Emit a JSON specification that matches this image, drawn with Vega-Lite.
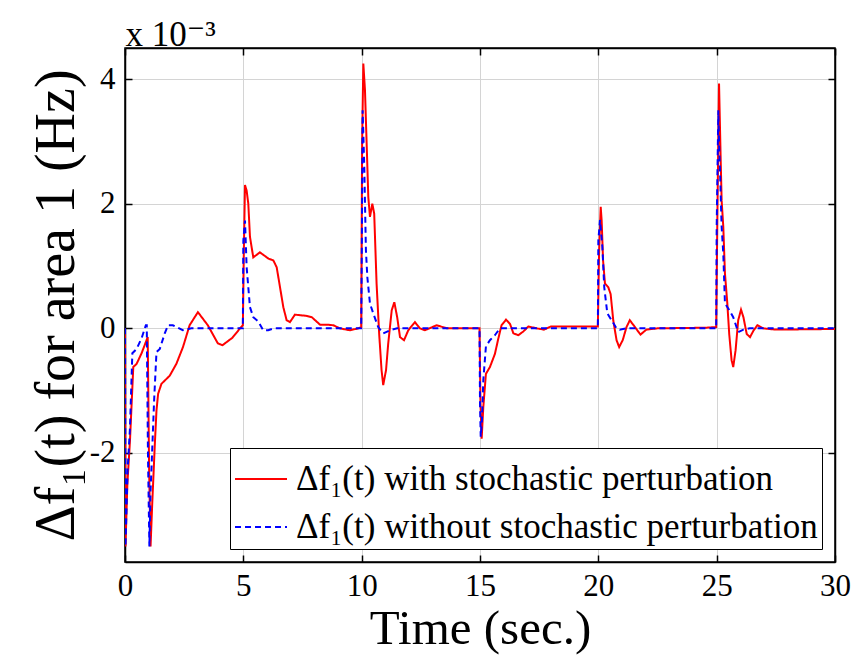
{
  "$schema": "https://vega.github.io/schema/vega-lite/v6.json",
  "width": 710,
  "height": 514,
  "autosize": {"type": "none"},
  "padding": {"left": 125, "top": 48, "right": 22, "bottom": 97},
  "background": "white",
  "config": {"view": {"stroke": "black", "strokeWidth": 1.5}, "font": "Times New Roman, Liberation Serif, DejaVu Serif, serif"},
  "data": {"values": [
    {"t":0,"v":0,"s":"with"},{"t":0.02,"v":-3.5,"s":"with"},{"t":0.1,"v":-2.5,"s":"with"},{"t":0.21,"v":-1.8,"s":"with"},{"t":0.35,"v":-0.62,"s":"with"},{"t":0.49,"v":-0.57,"s":"with"},{"t":0.7,"v":-0.4,"s":"with"},{"t":0.91,"v":-0.19,"s":"with"},{"t":0.96,"v":-0.14,"s":"with"},{"t":1.02,"v":-2.3,"s":"with"},{"t":1.08,"v":-3.5,"s":"with"},{"t":1.15,"v":-2.82,"s":"with"},{"t":1.26,"v":-1.86,"s":"with"},{"t":1.33,"v":-1.32,"s":"with"},{"t":1.4,"v":-1.05,"s":"with"},{"t":1.54,"v":-0.89,"s":"with"},{"t":1.89,"v":-0.76,"s":"with"},{"t":2.17,"v":-0.57,"s":"with"},{"t":2.45,"v":-0.3,"s":"with"},{"t":2.73,"v":0.05,"s":"with"},{"t":3.08,"v":0.26,"s":"with"},{"t":3.5,"v":0.05,"s":"with"},{"t":3.92,"v":-0.24,"s":"with"},{"t":4.12,"v":-0.27,"s":"with"},{"t":4.54,"v":-0.15,"s":"with"},{"t":4.86,"v":0.0,"s":"with"},{"t":4.98,"v":0.05,"s":"with"},{"t":5.02,"v":1.2,"s":"with"},{"t":5.07,"v":2.3,"s":"with"},{"t":5.14,"v":2.21,"s":"with"},{"t":5.21,"v":2.0,"s":"with"},{"t":5.28,"v":1.47,"s":"with"},{"t":5.42,"v":1.14,"s":"with"},{"t":5.7,"v":1.22,"s":"with"},{"t":6.06,"v":1.12,"s":"with"},{"t":6.27,"v":1.09,"s":"with"},{"t":6.41,"v":0.98,"s":"with"},{"t":6.55,"v":0.66,"s":"with"},{"t":6.69,"v":0.34,"s":"with"},{"t":6.83,"v":0.13,"s":"with"},{"t":6.97,"v":0.1,"s":"with"},{"t":7.18,"v":0.22,"s":"with"},{"t":7.68,"v":0.2,"s":"with"},{"t":7.89,"v":0.18,"s":"with"},{"t":8.24,"v":0.06,"s":"with"},{"t":8.52,"v":0.06,"s":"with"},{"t":8.8,"v":0.05,"s":"with"},{"t":9.08,"v":0,"s":"with"},{"t":9.5,"v":-0.03,"s":"with"},{"t":9.86,"v":0,"s":"with"},{"t":9.98,"v":0.02,"s":"with"},{"t":10.02,"v":3.0,"s":"with"},{"t":10.07,"v":4.25,"s":"with"},{"t":10.14,"v":3.82,"s":"with"},{"t":10.21,"v":2.97,"s":"with"},{"t":10.28,"v":2.11,"s":"with"},{"t":10.35,"v":1.79,"s":"with"},{"t":10.45,"v":2.0,"s":"with"},{"t":10.53,"v":1.84,"s":"with"},{"t":10.63,"v":0.72,"s":"with"},{"t":10.74,"v":-0.09,"s":"with"},{"t":10.84,"v":-0.67,"s":"with"},{"t":10.91,"v":-0.91,"s":"with"},{"t":11.03,"v":-0.67,"s":"with"},{"t":11.12,"v":-0.25,"s":"with"},{"t":11.27,"v":0.29,"s":"with"},{"t":11.38,"v":0.42,"s":"with"},{"t":11.5,"v":0.18,"s":"with"},{"t":11.62,"v":-0.14,"s":"with"},{"t":11.79,"v":-0.19,"s":"with"},{"t":11.97,"v":-0.03,"s":"with"},{"t":12.25,"v":0.1,"s":"with"},{"t":12.46,"v":0,"s":"with"},{"t":12.67,"v":-0.03,"s":"with"},{"t":13.17,"v":0.05,"s":"with"},{"t":13.6,"v":0,"s":"with"},{"t":14.5,"v":0,"s":"with"},{"t":14.98,"v":0,"s":"with"},{"t":15.02,"v":-1.2,"s":"with"},{"t":15.07,"v":-1.77,"s":"with"},{"t":15.14,"v":-1.26,"s":"with"},{"t":15.25,"v":-0.73,"s":"with"},{"t":15.42,"v":-0.62,"s":"with"},{"t":15.63,"v":-0.41,"s":"with"},{"t":15.77,"v":-0.17,"s":"with"},{"t":15.91,"v":0.05,"s":"with"},{"t":16.1,"v":0.14,"s":"with"},{"t":16.27,"v":0.07,"s":"with"},{"t":16.41,"v":-0.08,"s":"with"},{"t":16.62,"v":-0.11,"s":"with"},{"t":16.83,"v":-0.05,"s":"with"},{"t":17.04,"v":0.03,"s":"with"},{"t":17.4,"v":0,"s":"with"},{"t":17.7,"v":-0.02,"s":"with"},{"t":18.0,"v":0.03,"s":"with"},{"t":19.6,"v":0.03,"s":"with"},{"t":19.98,"v":0.03,"s":"with"},{"t":20.03,"v":1.2,"s":"with"},{"t":20.1,"v":1.95,"s":"with"},{"t":20.14,"v":1.73,"s":"with"},{"t":20.2,"v":1.09,"s":"with"},{"t":20.28,"v":0.72,"s":"with"},{"t":20.42,"v":0.66,"s":"with"},{"t":20.52,"v":0.55,"s":"with"},{"t":20.63,"v":0.13,"s":"with"},{"t":20.77,"v":-0.19,"s":"with"},{"t":20.88,"v":-0.3,"s":"with"},{"t":21.03,"v":-0.19,"s":"with"},{"t":21.19,"v":0.02,"s":"with"},{"t":21.33,"v":0.13,"s":"with"},{"t":21.55,"v":0.02,"s":"with"},{"t":21.78,"v":-0.1,"s":"with"},{"t":22.03,"v":-0.02,"s":"with"},{"t":22.5,"v":0,"s":"with"},{"t":24.5,"v":0.01,"s":"with"},{"t":24.98,"v":0.02,"s":"with"},{"t":25.03,"v":1.8,"s":"with"},{"t":25.1,"v":3.93,"s":"with"},{"t":25.14,"v":3.23,"s":"with"},{"t":25.17,"v":2.7,"s":"with"},{"t":25.21,"v":2.05,"s":"with"},{"t":25.28,"v":1.63,"s":"with"},{"t":25.35,"v":0.88,"s":"with"},{"t":25.45,"v":0.4,"s":"with"},{"t":25.53,"v":-0.09,"s":"with"},{"t":25.63,"v":-0.51,"s":"with"},{"t":25.7,"v":-0.62,"s":"with"},{"t":25.8,"v":-0.35,"s":"with"},{"t":25.91,"v":0.13,"s":"with"},{"t":26.03,"v":0.3,"s":"with"},{"t":26.13,"v":0.18,"s":"with"},{"t":26.27,"v":-0.09,"s":"with"},{"t":26.41,"v":-0.14,"s":"with"},{"t":26.55,"v":-0.04,"s":"with"},{"t":26.72,"v":0.05,"s":"with"},{"t":26.97,"v":0,"s":"with"},{"t":27.5,"v":-0.02,"s":"with"},{"t":30,"v":-0.01,"s":"with"},
    {"t":0,"v":0,"s":"without"},{"t":0.02,"v":-3.5,"s":"without"},{"t":0.11,"v":-2.28,"s":"without"},{"t":0.21,"v":-1.6,"s":"without"},{"t":0.31,"v":-0.4,"s":"without"},{"t":0.49,"v":-0.33,"s":"without"},{"t":0.7,"v":-0.16,"s":"without"},{"t":0.88,"v":0.05,"s":"without"},{"t":0.92,"v":0.05,"s":"without"},{"t":0.97,"v":-2.0,"s":"without"},{"t":1.03,"v":-3.5,"s":"without"},{"t":1.08,"v":-2.6,"s":"without"},{"t":1.12,"v":-2.24,"s":"without"},{"t":1.23,"v":-1.16,"s":"without"},{"t":1.33,"v":-0.38,"s":"without"},{"t":1.47,"v":-0.33,"s":"without"},{"t":1.68,"v":-0.08,"s":"without"},{"t":1.82,"v":0.05,"s":"without"},{"t":2.02,"v":0.05,"s":"without"},{"t":2.44,"v":-0.03,"s":"without"},{"t":2.8,"v":0,"s":"without"},{"t":4.98,"v":0,"s":"without"},{"t":5.0,"v":1.41,"s":"without"},{"t":5.07,"v":1.73,"s":"without"},{"t":5.14,"v":0.98,"s":"without"},{"t":5.28,"v":0.34,"s":"without"},{"t":5.42,"v":0.18,"s":"without"},{"t":5.63,"v":0.11,"s":"without"},{"t":5.84,"v":-0.03,"s":"without"},{"t":6.05,"v":-0.03,"s":"without"},{"t":6.3,"v":0,"s":"without"},{"t":9.98,"v":0,"s":"without"},{"t":10.01,"v":1.5,"s":"without"},{"t":10.04,"v":3.5,"s":"without"},{"t":10.07,"v":3.13,"s":"without"},{"t":10.11,"v":2.59,"s":"without"},{"t":10.18,"v":1.25,"s":"without"},{"t":10.24,"v":0.82,"s":"without"},{"t":10.35,"v":0.4,"s":"without"},{"t":10.49,"v":0.24,"s":"without"},{"t":10.7,"v":0.02,"s":"without"},{"t":10.91,"v":-0.08,"s":"without"},{"t":11.2,"v":-0.03,"s":"without"},{"t":11.5,"v":0,"s":"without"},{"t":14.98,"v":0,"s":"without"},{"t":15.0,"v":-1.2,"s":"without"},{"t":15.03,"v":-1.74,"s":"without"},{"t":15.08,"v":-1.5,"s":"without"},{"t":15.14,"v":-0.83,"s":"without"},{"t":15.25,"v":-0.29,"s":"without"},{"t":15.42,"v":-0.19,"s":"without"},{"t":15.63,"v":-0.11,"s":"without"},{"t":15.84,"v":0,"s":"without"},{"t":19.98,"v":0,"s":"without"},{"t":20.0,"v":1.41,"s":"without"},{"t":20.07,"v":1.74,"s":"without"},{"t":20.17,"v":1.31,"s":"without"},{"t":20.25,"v":0.66,"s":"without"},{"t":20.38,"v":0.24,"s":"without"},{"t":20.56,"v":0.13,"s":"without"},{"t":20.77,"v":0,"s":"without"},{"t":20.9,"v":-0.02,"s":"without"},{"t":21.2,"v":0,"s":"without"},{"t":24.98,"v":0,"s":"without"},{"t":25.0,"v":1.6,"s":"without"},{"t":25.07,"v":3.5,"s":"without"},{"t":25.1,"v":2.97,"s":"without"},{"t":25.14,"v":2.54,"s":"without"},{"t":25.21,"v":1.63,"s":"without"},{"t":25.28,"v":1.2,"s":"without"},{"t":25.35,"v":0.4,"s":"without"},{"t":25.49,"v":0.32,"s":"without"},{"t":25.7,"v":0.18,"s":"without"},{"t":25.91,"v":-0.06,"s":"without"},{"t":26.13,"v":-0.02,"s":"without"},{"t":26.4,"v":0,"s":"without"},{"t":30,"v":0,"s":"without"}
  ]},
  "layer": [
    {
      "mark": {"type": "line", "strokeWidth": 2, "clip": true},
      "encoding": {
        "x": {"field": "t", "type": "quantitative",
          "scale": {"domain": [0, 30], "nice": false, "zero": false},
          "axis": {"orient": "bottom", "values": [0,5,10,15,20,25,30], "title": "Time (sec.)",
            "titleFont": "Times New Roman, Liberation Serif, DejaVu Serif, serif", "titleFontSize": 49, "titleFontWeight": "normal", "titleColor": "black", "titlePadding": 3,
            "labelFont": "Times New Roman, Liberation Serif, DejaVu Serif, serif", "labelFontSize": 31, "labelColor": "black", "labelPadding": 16, "labelFlush": false,
            "tickSize": -7, "tickColor": "black", "tickWidth": 1.5,
            "domainColor": "black", "domainWidth": 1.5,
            "grid": true, "gridColor": "#d4d4d4", "gridWidth": 1}},
        "y": {"field": "v", "type": "quantitative",
          "scale": {"domain": [-3.75, 4.5], "nice": false, "zero": false},
          "axis": {"orient": "left", "values": [-2,0,2,4], "title": "Δf₁(t) for area 1 (Hz)",
            "labelExpr": "replace(datum.label, '−', '-')",
            "titleFont": "Times New Roman, Liberation Serif, DejaVu Serif, serif", "titleFontSize": 56, "titleFontWeight": "normal", "titleColor": "black", "titlePadding": 4,
            "labelFont": "Times New Roman, Liberation Serif, DejaVu Serif, serif", "labelFontSize": 31, "labelColor": "black", "labelPadding": 17, "labelFlush": false,
            "tickSize": -7, "tickColor": "black", "tickWidth": 1.5,
            "domainColor": "black", "domainWidth": 1.5,
            "grid": true, "gridColor": "#d4d4d4", "gridWidth": 1}},
        "color": {"field": "s", "type": "nominal",
          "scale": {"domain": ["with", "without"], "range": ["#ff0000", "#0000ff"]},
          "legend": {"orient": "bottom-right", "offset": 13, "title": null,
            "labelExpr": "datum.label == 'with' ? 'Δf₁(t) with stochastic perturbation' : 'Δf₁(t) without stochastic perturbation'",
            "labelFont": "Times New Roman, Liberation Serif, DejaVu Serif, serif", "labelFontSize": 35, "labelColor": "black", "labelLimit": 900,
            "symbolType": "stroke", "symbolSize": 2700, "symbolStrokeWidth": 2,
            "strokeColor": "black", "fillColor": "white", "padding": 4, "rowPadding": 3, "labelOffset": 8}},
        "strokeDash": {"field": "s", "type": "nominal",
          "scale": {"domain": ["with", "without"], "range": [[1, 0], [6, 4]]},
          "legend": {"orient": "bottom-right", "offset": 13, "title": null,
            "labelExpr": "datum.label == 'with' ? 'Δf₁(t) with stochastic perturbation' : 'Δf₁(t) without stochastic perturbation'",
            "labelFont": "Times New Roman, Liberation Serif, DejaVu Serif, serif", "labelFontSize": 35, "labelColor": "black", "labelLimit": 900,
            "symbolType": "stroke", "symbolSize": 2700, "symbolStrokeWidth": 2,
            "strokeColor": "black", "fillColor": "white", "padding": 4, "rowPadding": 3, "labelOffset": 8}}
      }
    },
    {
      "mark": {"type": "line", "opacity": 0},
      "encoding": {
        "x": {"field": "t", "type": "quantitative",
          "axis": {"orient": "top", "values": [0,5,10,15,20,25,30], "title": "x 10⁻³", "labels": false, "grid": false,
            "titleFont": "Times New Roman, Liberation Serif, DejaVu Serif, serif", "titleFontSize": 35, "titleFontWeight": "normal", "titleColor": "black",
            "titleX": 0, "titleY": -3, "titleAlign": "left", "titleBaseline": "alphabetic", "titleAngle": 0,
            "tickSize": -7, "tickColor": "black", "tickWidth": 1.5, "domainColor": "black", "domainWidth": 1.5}},
        "y": {"field": "v", "type": "quantitative",
          "axis": {"orient": "right", "values": [-2,0,2,4], "title": null, "labels": false, "grid": false,
            "tickSize": -7, "tickColor": "black", "tickWidth": 1.5, "domainColor": "black", "domainWidth": 1.5}}
      }
    }
  ],
  "resolve": {"axis": {"x": "independent", "y": "independent"}}
}
